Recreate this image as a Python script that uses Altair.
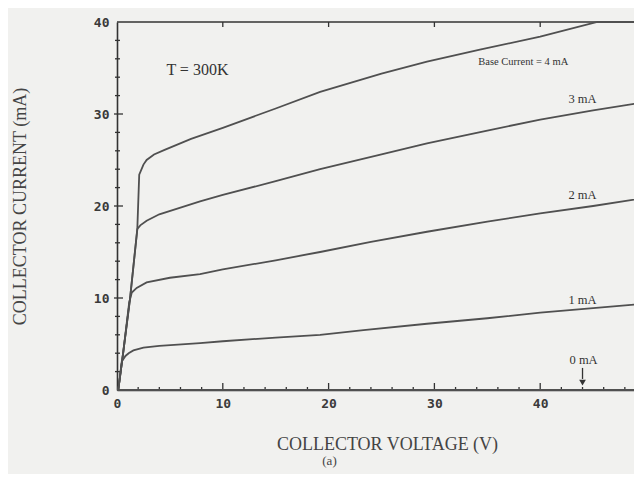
import altair as alt
import pandas as pd

# ---------------- data ----------------
V_1MA = [0.12, 0.45, 0.8, 1.1, 1.55, 2.5, 4, 7.85, 10, 15, 19.2, 23.3, 29.3, 35, 40, 45, 50]
I_1MA = [0, 3.1, 3.7, 4.0, 4.3, 4.6, 4.8, 5.1, 5.3, 5.7, 6.0, 6.5, 7.2, 7.8, 8.4, 8.9, 9.4]

V_2MA = [0.12, 0.6, 1.15, 1.4, 1.86, 2.8, 5, 7.85, 10, 15, 19.2, 24, 29.3, 35, 40, 45, 50]
I_2MA = [0, 4.2, 9.5, 10.6, 11.1, 11.7, 12.2, 12.6, 13.1, 14.1, 15.0, 16.1, 17.2, 18.3, 19.2, 20.0, 20.9]

V_3MA = [0.12, 0.6, 1.23, 1.92, 2.2, 2.8, 4, 7.85, 10, 15, 19.2, 25, 29.3, 35, 40, 45, 50]
I_3MA = [0, 4.2, 9.9, 17.5, 17.9, 18.4, 19.1, 20.5, 21.2, 22.7, 24.0, 25.6, 26.8, 28.2, 29.4, 30.4, 31.3]

V_4MA = [0.12, 0.6, 1.23, 1.92, 2.1, 2.5, 2.8, 3.5, 4.5, 7, 10, 15, 19.2, 25, 29.3, 34.3, 40, 45.4, 50]
I_4MA = [0, 4.2, 9.9, 17.5, 23.4, 24.5, 25.0, 25.6, 26.1, 27.3, 28.5, 30.6, 32.4, 34.4, 35.7, 37.0, 38.4, 40, 40]

V_0MA = [0, 50]
I_0MA = [0, 0]

X_TICKS = [0, 10, 20, 30, 40]
Y_TICKS = [0, 10, 20, 30, 40]
X_MINOR = [2, 4, 6, 8, 12, 14, 16, 18, 22, 24, 26, 28, 32, 34, 36, 38, 42, 44, 46, 48]
Y_MINOR = [2, 4, 6, 8, 12, 14, 16, 18, 22, 24, 26, 28, 32, 34, 36, 38]
X_MAJOR_IN = [10, 20, 30, 40]
Y_MAJOR_IN = [10, 20, 30]

LABEL_TEXT = ["T = 300K", "Base Current = 4 mA", "3 mA", "2 mA", "1 mA", "0 mA"]
LABEL_V = [7.6, 38.4, 44.0, 44.0, 44.0, 44.1]
LABEL_I = [34.8, 35.6, 31.6, 21.2, 9.8, 3.3]
LABEL_SIZE = [16, 10.5, 12.5, 12.5, 12.5, 12.5]

ARROW_V = [44.0, 44.0]
ARROW_I = [2.4, 1.2]
ARROW_HEAD_V = [44.0]
ARROW_HEAD_I = [0.8]

# ---------------- frames ----------------
rows = []
for name, vs, is_ in [("0 mA", V_0MA, I_0MA), ("1 mA", V_1MA, I_1MA), ("2 mA", V_2MA, I_2MA),
                      ("3 mA", V_3MA, I_3MA), ("4 mA", V_4MA, I_4MA)]:
    for k, (v, i) in enumerate(zip(vs, is_)):
        rows.append({"curve": name, "V": v, "I": i, "order": k})
curves = pd.DataFrame(rows)

labels = pd.DataFrame({"text": LABEL_TEXT, "V": LABEL_V, "I": LABEL_I, "size": LABEL_SIZE})
arrow = pd.DataFrame({"V": ARROW_V, "I": ARROW_I})
arrow_head = pd.DataFrame({"V": ARROW_HEAD_V, "I": ARROW_HEAD_I})

W, H = 517, 368
XR = 529  # pixel length of the 0-50 V span (the right part runs past the page edge)

xscale = alt.Scale(domain=[0, 50], range=[0, XR], nice=False)
yscale = alt.Scale(domain=[0, 40], nice=False)

xaxis = alt.Axis(values=X_TICKS, format="d", ticks=False, grid=False, labelFlush=False,
                 domainColor="#333333", domainWidth=1.6,
                 labelFont="DejaVu Sans Mono", labelFontWeight="bold", labelFontSize=13,
                 labelColor="#3a3a3a", labelPadding=7,
                 title="COLLECTOR VOLTAGE (V)", titleFont="Liberation Serif",
                 titleFontSize=18, titleFontWeight="normal", titleColor="#444444",
                 titleX=270, titleY=54, titleBaseline="middle", titleAlign="center")
yaxis = alt.Axis(values=Y_TICKS, format="d", ticks=False, grid=False, labelFlush=False,
                 domainColor="#333333", domainWidth=1.6,
                 labelFont="DejaVu Sans Mono", labelFontWeight="bold", labelFontSize=13,
                 labelColor="#3a3a3a", labelPadding=8,
                 title="COLLECTOR CURRENT (mA)", titleFont="Liberation Serif",
                 titleFontSize=18, titleFontWeight="normal", titleColor="#444444",
                 titleX=-97, titleY=184, titleBaseline="middle", titleAlign="center",
                 titleAngle=270)

lines = alt.Chart(curves).mark_line(color="#505050", strokeWidth=1.8, interpolate="linear").encode(
    x=alt.X("V:Q", scale=xscale, axis=xaxis),
    y=alt.Y("I:Q", scale=yscale, axis=yaxis),
    detail="curve:N",
    order="order:Q",
)

text = alt.Chart(labels).mark_text(font="Liberation Serif", color="#333333", align="center",
                                   baseline="middle").encode(
    x=alt.X("V:Q", scale=xscale),
    y=alt.Y("I:Q", scale=yscale),
    text="text:N",
    size=alt.Size("size:Q", scale=None, legend=None),
)

arrow_line = alt.Chart(arrow).mark_line(color="#333333", strokeWidth=1.3).encode(
    x=alt.X("V:Q", scale=xscale), y=alt.Y("I:Q", scale=yscale))
arrow_tip = alt.Chart(arrow_head).mark_point(shape="triangle-down", filled=True, color="#333333",
                                             size=45, opacity=1).encode(
    x=alt.X("V:Q", scale=xscale), y=alt.Y("I:Q", scale=yscale))

# tick decorations (inward ticks and top frame)
xminor = pd.DataFrame({"V": X_MINOR})
xmajor = pd.DataFrame({"V": X_MAJOR_IN})
yminor = pd.DataFrame({"I": Y_MINOR})
ymajor = pd.DataFrame({"I": Y_MAJOR_IN})

tick_style = dict(color="#333333", strokeWidth=1.3)
bx_minor = alt.Chart(xminor).mark_rule(**tick_style).encode(
    x=alt.X("V:Q", scale=xscale), y=alt.value(H), y2=alt.value(H - 3))
bx_major = alt.Chart(xmajor).mark_rule(**tick_style).encode(
    x=alt.X("V:Q", scale=xscale), y=alt.value(H), y2=alt.value(H - 7))
tx_major = alt.Chart(xmajor).mark_rule(**tick_style).encode(
    x=alt.X("V:Q", scale=xscale), y=alt.value(0), y2=alt.value(5))
ly_minor = alt.Chart(yminor).mark_rule(**tick_style).encode(
    y=alt.Y("I:Q", scale=yscale), x=alt.value(-2), x2=alt.value(3))
ly_major = alt.Chart(ymajor).mark_rule(**tick_style).encode(
    y=alt.Y("I:Q", scale=yscale), x=alt.value(-3), x2=alt.value(6))
top_frame = alt.Chart(pd.DataFrame({"I": [40]})).mark_rule(color="#333333", strokeWidth=1.6).encode(
    y=alt.Y("I:Q", scale=yscale), x=alt.value(0), x2=alt.value(XR))

chart = alt.layer(
    top_frame, bx_minor, bx_major, tx_major, ly_minor, ly_major,
    lines, arrow_line, arrow_tip, text,
).properties(
    width=W, height=H,
    padding={"left": 109, "top": 14, "right": 0, "bottom": 84},
    autosize=alt.AutoSizeParams(type="none"),
    background="#f1f1ef",
    title=alt.TitleParams("(a)", orient="bottom", anchor="middle", frame="group",
                          font="Liberation Serif", fontSize=13, fontWeight="normal",
                          color="#444444", dx=-46, offset=2),
).configure_view(strokeWidth=0)

chart.save("out.html", embed_options={"renderer": "svg", "actions": False})
